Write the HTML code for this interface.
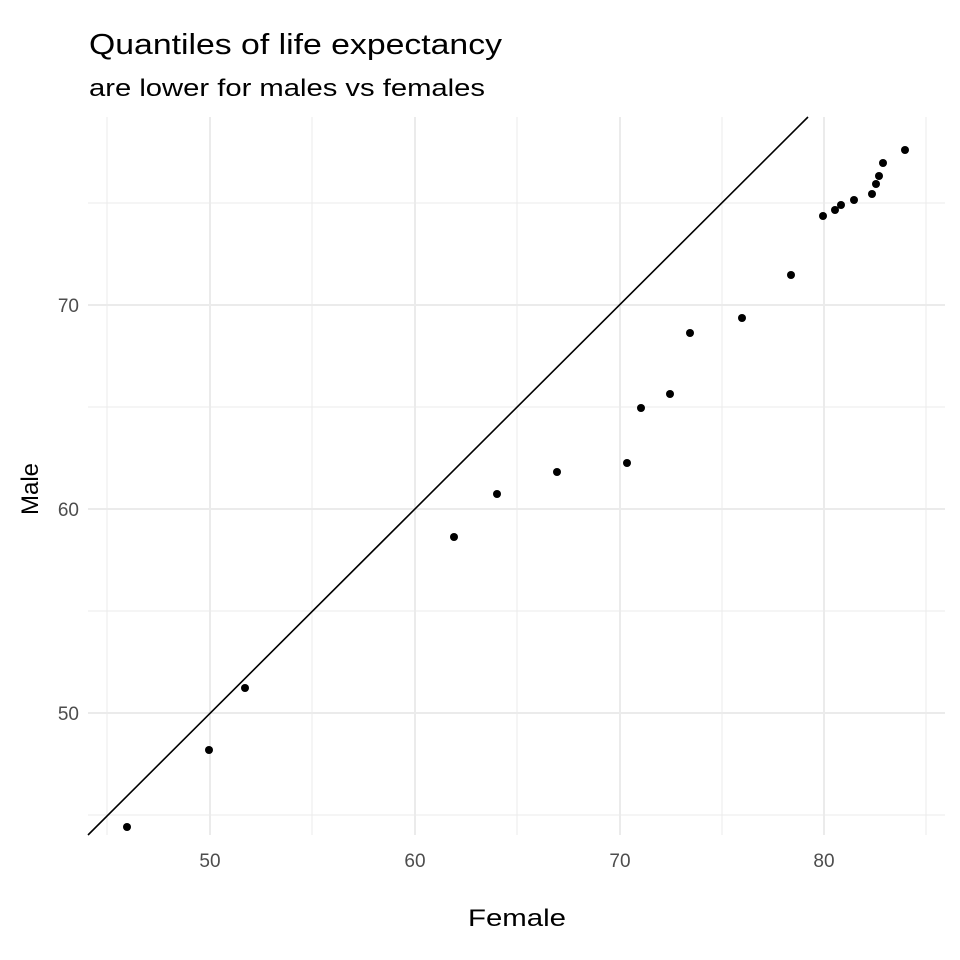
<!DOCTYPE html>
<html><head><meta charset="utf-8"><style>body{margin:0;background:#fff}svg{display:block}</style></head><body>
<svg width="960" height="960" xmlns="http://www.w3.org/2000/svg" font-family="Liberation Sans, sans-serif">
<rect width="960" height="960" fill="#fff"/>
<g stroke="#ebebeb" stroke-width="1">
<line x1="107" y1="117" x2="107" y2="835"/><line x1="312" y1="117" x2="312" y2="835"/><line x1="517" y1="117" x2="517" y2="835"/><line x1="722" y1="117" x2="722" y2="835"/><line x1="926" y1="117" x2="926" y2="835"/>
<line x1="88" y1="203" x2="945" y2="203"/><line x1="88" y1="407" x2="945" y2="407"/><line x1="88" y1="611" x2="945" y2="611"/><line x1="88" y1="815" x2="945" y2="815"/>
</g>
<g stroke="#ebebeb" stroke-width="2">
<line x1="210" y1="117" x2="210" y2="835"/><line x1="415" y1="117" x2="415" y2="835"/><line x1="620" y1="117" x2="620" y2="835"/><line x1="824" y1="117" x2="824" y2="835"/>
<line x1="88" y1="305" x2="945" y2="305"/><line x1="88" y1="509" x2="945" y2="509"/><line x1="88" y1="713" x2="945" y2="713"/>
</g>
<line x1="88" y1="835" x2="808" y2="117" stroke="#000" stroke-width="1.6"/>
<g fill="#000">
<circle cx="127" cy="827" r="4"/><circle cx="209" cy="750" r="4"/><circle cx="245" cy="688" r="4"/><circle cx="454" cy="537" r="4"/><circle cx="497" cy="494" r="4"/><circle cx="557" cy="472" r="4"/><circle cx="627" cy="463" r="4"/><circle cx="641" cy="408" r="4"/><circle cx="670" cy="394" r="4"/><circle cx="690" cy="333" r="4"/><circle cx="742" cy="318" r="4"/><circle cx="791" cy="275" r="4"/><circle cx="823" cy="216" r="4"/><circle cx="835" cy="210" r="4"/><circle cx="841" cy="205" r="4"/><circle cx="854" cy="200" r="4"/><circle cx="872" cy="194" r="4"/><circle cx="876" cy="184" r="4"/><circle cx="879" cy="176" r="4"/><circle cx="883" cy="163" r="4"/><circle cx="905" cy="150" r="4"/>
</g>
<g fill="#4d4d4d" font-size="19" text-anchor="middle">
<text x="210" y="867">50</text><text x="415" y="867">60</text><text x="620" y="867">70</text><text x="824" y="867">80</text>
</g>
<g fill="#4d4d4d" font-size="19" text-anchor="end">
<text x="79" y="312">70</text><text x="79" y="516">60</text><text x="79" y="720">50</text>
</g>
<text x="468" y="926" font-size="24" fill="#000" textLength="98" lengthAdjust="spacingAndGlyphs">Female</text>
<text transform="translate(38,489) rotate(-90)" font-size="24" text-anchor="middle" fill="#000">Male</text>
<text x="89" y="54" font-size="29" fill="#000" textLength="413" lengthAdjust="spacingAndGlyphs">Quantiles of life expectancy</text>
<text x="89" y="96" font-size="24" fill="#000" textLength="396" lengthAdjust="spacingAndGlyphs">are lower for males vs females</text>
</svg>
</body></html>
